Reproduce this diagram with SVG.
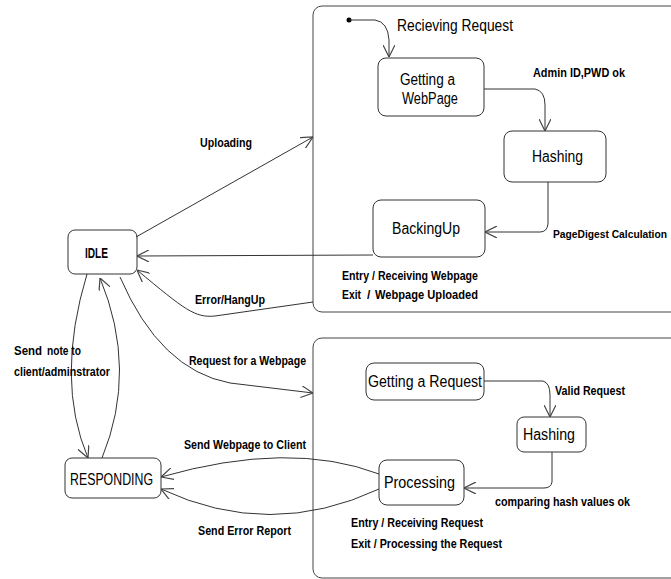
<svg xmlns="http://www.w3.org/2000/svg" width="671" height="579" viewBox="0 0 671 579">
<style>
.box{fill:#fff;stroke:#333;stroke-width:1}
.cont{fill:none;stroke:#444;stroke-width:1}
.c{fill:none;stroke:#333;stroke-width:1;marker-end:url(#arr)}
.n{font-family:"Liberation Sans Narrow","Liberation Sans",Arial,sans-serif;font-size:16px;fill:#000}
.l{font-family:"Liberation Sans Narrow","Liberation Sans",Arial,sans-serif;font-size:12px;font-weight:bold;fill:#000}
</style>
<defs>
<marker id="arr" markerUnits="userSpaceOnUse" markerWidth="12" markerHeight="12" refX="10" refY="5" orient="auto" viewBox="0 0 10 10">
<path d="M0,0 L10,5 L0,10" fill="none" stroke="#444" stroke-width="1"/>
</marker>
</defs>
<rect width="671" height="579" fill="#fff"/>
<g id="receiving-request">
<rect class="cont" x="313" y="6" width="420" height="306" rx="9"/>
<text class="n" x="397" y="31" textLength="116" lengthAdjust="spacingAndGlyphs">Recieving Request</text>
<circle cx="349" cy="20" r="2.5" fill="#000"/>
</g>
<g id="responding-request">
<rect class="cont" x="313" y="338" width="420" height="240" rx="9"/>
</g>
<g id="getting-webpage">
<rect class="box" x="378" y="58" width="106" height="58" rx="8"/>
<text class="n" x="400" y="85" textLength="55" lengthAdjust="spacingAndGlyphs">Getting a</text>
<text class="n" x="402" y="104" textLength="56" lengthAdjust="spacingAndGlyphs">WebPage</text>
</g>
<g id="hashing1">
<rect class="box" x="504" y="131" width="102" height="51" rx="8"/>
<text class="n" x="532" y="162" textLength="51" lengthAdjust="spacingAndGlyphs">Hashing</text>
</g>
<g id="backingup">
<rect class="box" x="373" y="200" width="112" height="57" rx="8"/>
<text class="n" x="392" y="234" textLength="68" lengthAdjust="spacingAndGlyphs">BackingUp</text>
</g>
<g id="idle">
<rect class="box" x="68" y="230" width="69" height="44" rx="7"/>
<text class="l" x="85" y="258" style="font-size:14px" textLength="23" lengthAdjust="spacingAndGlyphs">IDLE</text>
</g>
<g id="responding">
<rect class="box" x="65" y="458" width="96" height="40" rx="7"/>
<text class="n" x="70" y="485" textLength="83" lengthAdjust="spacingAndGlyphs">RESPONDING</text>
</g>
<g id="getting-request">
<rect class="box" x="366" y="363" width="118" height="37" rx="8"/>
<text class="n" x="368" y="387" textLength="114" lengthAdjust="spacingAndGlyphs">Getting a Request</text>
</g>
<g id="hashing2">
<rect class="box" x="517" y="417" width="69" height="35" rx="7"/>
<text class="n" x="523" y="440" textLength="52" lengthAdjust="spacingAndGlyphs">Hashing</text>
</g>
<g id="processing">
<rect class="box" x="379" y="460" width="85" height="45" rx="8"/>
<text class="n" x="384" y="488" textLength="71" lengthAdjust="spacingAndGlyphs">Processing</text>
</g>
<g id="connectors">
<path class="c" d="M349,20 L375,20 Q388,22 389,40 L389,57"/>
<path class="c" d="M484,89 L535,89 Q545,91 545,105 L545,131"/>
<path class="c" d="M548,182 L548,224 Q547,232 540,232 L485,232"/>
<path class="c" d="M373,255 L137,256"/>
<path class="c" d="M136,237 L313,137"/>
<path class="c" d="M313,302 L215,316 C195,318 185,310 137,270"/>
<path class="c" d="M120,277 Q160,370 230,383 L313,393"/>
<path class="c" d="M87,274 Q55,380 88,458"/>
<path class="c" d="M102,458 Q138,370 100,278"/>
<path class="c" d="M484,381 L543,381 Q550,383 550,395 L550,417"/>
<path class="c" d="M552,452 L552,482 Q551,488 544,488 L464,488"/>
<path class="c" d="M379,474 Q290,440 161,477"/>
<path class="c" d="M379,489 Q270,540 161,489"/>
</g>
<g id="labels">
<text class="l" x="533" y="77" textLength="92" lengthAdjust="spacingAndGlyphs">Admin ID,PWD ok</text>
<text class="l" x="553" y="238" style="font-size:10.5px" textLength="114" lengthAdjust="spacingAndGlyphs">PageDigest Calculation</text>
<text class="l" x="342" y="280" textLength="136" lengthAdjust="spacingAndGlyphs">Entry / Receiving Webpage</text>
<text class="l" x="342" y="299" textLength="19" lengthAdjust="spacingAndGlyphs">Exit</text>
<text class="l" x="367" y="299">/</text>
<text class="l" x="375" y="299" textLength="103" lengthAdjust="spacingAndGlyphs">Webpage Uploaded</text>
<text class="l" x="200" y="147" textLength="52" lengthAdjust="spacingAndGlyphs">Uploading</text>
<text class="l" x="195" y="304" textLength="70" lengthAdjust="spacingAndGlyphs">Error/HangUp</text>
<text class="l" x="189" y="365" textLength="117" lengthAdjust="spacingAndGlyphs">Request for a Webpage</text>
<text class="l" x="14" y="355" textLength="28" lengthAdjust="spacingAndGlyphs">Send</text>
<text class="l" x="47" y="355" textLength="34" lengthAdjust="spacingAndGlyphs">note to</text>
<text class="l" x="14" y="376" textLength="96" lengthAdjust="spacingAndGlyphs">client/adminstrator</text>
<text class="l" x="184" y="449" textLength="122" lengthAdjust="spacingAndGlyphs">Send Webpage to Client</text>
<text class="l" x="198" y="535" textLength="93" lengthAdjust="spacingAndGlyphs">Send Error Report</text>
<text class="l" x="555" y="395" textLength="70" lengthAdjust="spacingAndGlyphs">Valid Request</text>
<text class="l" x="495" y="506" textLength="135" lengthAdjust="spacingAndGlyphs">comparing hash values ok</text>
<text class="l" x="351" y="527" textLength="132" lengthAdjust="spacingAndGlyphs">Entry / Receiving Request</text>
<text class="l" x="351" y="548" textLength="151" lengthAdjust="spacingAndGlyphs">Exit / Processing the Request</text>
</g>
</svg>
